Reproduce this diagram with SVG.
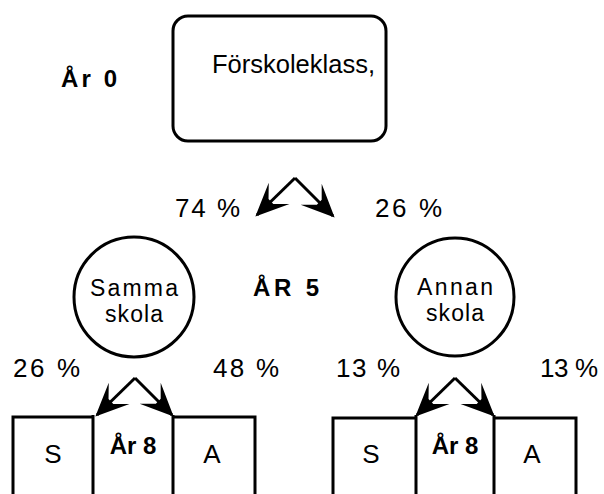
<svg xmlns="http://www.w3.org/2000/svg" width="604" height="494" viewBox="0 0 604 494">
<style>
.ln{fill:none;stroke:#000;stroke-width:3}
.t{font-family:"Liberation Sans",Arial,sans-serif;font-size:26px;fill:#000}
.c{font-family:"Liberation Sans",Arial,sans-serif;font-size:23px;fill:#000}
.b{font-family:"Liberation Sans",Arial,sans-serif;font-size:24px;font-weight:bold;fill:#000}
.m{text-anchor:middle}
</style>
<defs>
<marker id="ah" markerUnits="userSpaceOnUse" markerWidth="40" markerHeight="40" refX="0" refY="0" orient="auto" viewBox="-30 -15 35 30">
<path d="M2,0 L-27,-13 L-17,-3 L-17,3 L-27,13 Z" fill="#000"/>
</marker>
</defs>
<rect width="604" height="494" fill="#fff"/>
<g id="n-ar0"><text class="b" x="61" y="87" textLength="56" lengthAdjust="spacing">År 0</text></g>
<g id="n-forskola">
<rect class="ln" x="173" y="16" width="213" height="125" rx="15"/>
<text class="t" x="212" y="73" textLength="163" lengthAdjust="spacingAndGlyphs">Förskoleklass,</text>
</g>
<g id="n-ar5"><text class="b" x="253" y="296" textLength="66" lengthAdjust="spacing">ÅR 5</text></g>
<g id="n-samma">
<circle class="ln" cx="134" cy="297" r="60"/>
<text class="c" x="90" y="296" textLength="88" lengthAdjust="spacing">Samma</text>
<text class="c" x="105" y="322" textLength="58" lengthAdjust="spacing">skola</text>
</g>
<g id="n-annan">
<circle class="ln" cx="455" cy="297" r="59"/>
<text class="c" x="417" y="295" textLength="76" lengthAdjust="spacing">Annan</text>
<text class="c" x="426" y="321" textLength="58" lengthAdjust="spacing">skola</text>
</g>
<g id="n-left-boxes">
<path class="ln" d="M13,494 V417 H94 M93,494 V415 M173,494 V415 M172,417 H255 V494"/>
<text class="t m" x="53" y="463">S</text>
<text class="b m" x="133" y="454">År 8</text>
<text class="t m" x="212" y="463">A</text>
</g>
<g id="n-right-boxes">
<path class="ln" d="M333,494 V418 H417 M416,494 V415 M494,494 V415 M493,418 H576 V494"/>
<text class="t m" x="371" y="463">S</text>
<text class="b m" x="455" y="454">År 8</text>
<text class="t m" x="532" y="463">A</text>
</g>
<g id="labels">
<text class="t" x="175" y="217" textLength="65" lengthAdjust="spacing">74 %</text>
<text class="t" x="375" y="217" textLength="67" lengthAdjust="spacing">26 %</text>
<text class="t" x="13" y="377" textLength="67" lengthAdjust="spacing">26 %</text>
<text class="t" x="213" y="377" textLength="66" lengthAdjust="spacing">48 %</text>
<text class="t" x="336" y="377" textLength="64" lengthAdjust="spacing">13 %</text>
<text class="t" x="540" y="377" textLength="58" lengthAdjust="spacing">13 %</text>
</g>
<g id="connectors" class="ln">
<path class="ln" d="M295,178 L257,215" marker-end="url(#ah)"/>
<path class="ln" d="M295,178 L333,216" marker-end="url(#ah)"/>
<path class="ln" d="M135,378 L97,415" marker-end="url(#ah)"/>
<path class="ln" d="M135,378 L172,415" marker-end="url(#ah)"/>
<path class="ln" d="M455,378 L417,415" marker-end="url(#ah)"/>
<path class="ln" d="M455,378 L493,415" marker-end="url(#ah)"/>
</g>
</svg>
